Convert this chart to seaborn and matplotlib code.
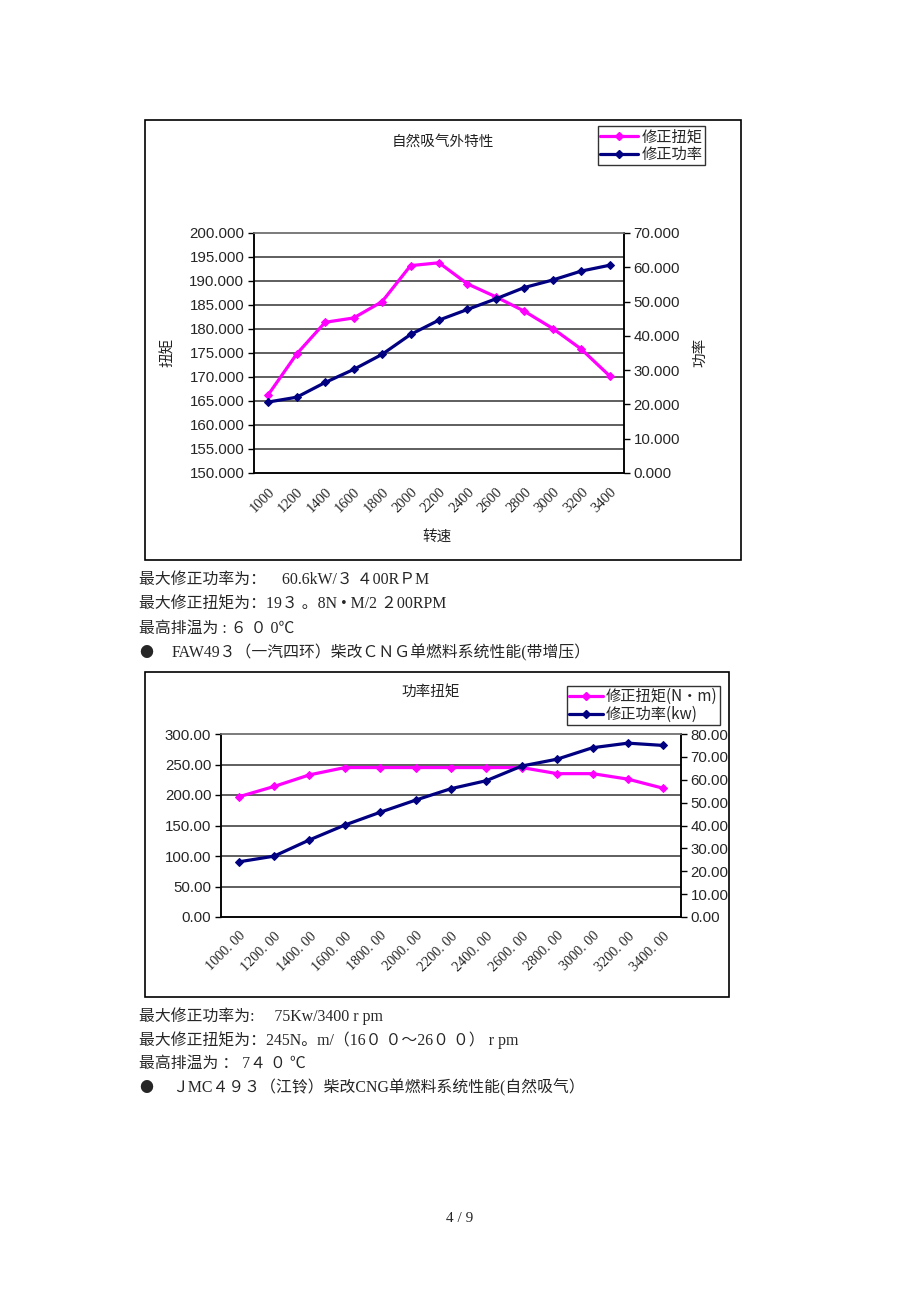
import numpy as np
import pandas as pd
import matplotlib
matplotlib.use("Agg")
import matplotlib.pyplot as plt
import seaborn as sns
from matplotlib.patches import Rectangle
from matplotlib.lines import Line2D

# data
speed = [1000, 1200, 1400, 1600, 1800, 2000, 2200, 2400, 2600, 2800, 3000, 3200, 3400]

torque1 = [166.3, 174.8, 181.4, 182.3, 185.7, 193.2, 193.8, 189.4, 186.7, 183.7, 180.1, 175.8, 170.2]
power1 = [20.7, 22.1, 26.4, 30.2, 34.6, 40.4, 44.6, 47.7, 50.8, 54.1, 56.3, 58.9, 60.6]

torque2 = [197, 214, 233, 245, 245, 245, 245, 245, 245, 235, 235, 226, 211]
power2 = [24.1, 26.6, 33.7, 40.2, 45.8, 51.1, 56.1, 59.6, 66.0, 69.0, 74.0, 76.0, 75.0]

notes1 = ["最大修正功率为：    60.6kW/３ ４00RＰM",
          "最大修正扭矩为：19３ 。8N • M/2 ２00RPM",
          "最高排温为 : ６ ０ 0℃"]
head1 = "FAW49３（一汽四环）柴改ＣＮＧ单燃料系统性能(带增压）"
notes2 = ["最大修正功率为:     75Kw/3400 r pm",
          "最大修正扭矩为：245N。m/（16０ ０～26０ ０） r pm",
          "最高排温为 ： 7４ ０ ℃"]
head2 = "ＪMC４９３（江铃）柴改CNG单燃料系统性能(自然吸气）"

sns.set_theme(style="white")
plt.rcParams['font.family'] = ['Liberation Sans', 'Noto Sans CJK SC', 'DejaVu Sans']
SERIF = ['Liberation Serif', 'Noto Sans CJK SC', 'DejaVu Sans']
CJK = ['Noto Sans CJK SC', 'DejaVu Sans']

W, H = 920, 1302
fig = plt.figure(figsize=(W / 100, H / 100), dpi=100)
fig.patch.set_facecolor("white")

MAG = "#FF00FF"
NAVY = "#000080"
GRID = "#333333"


def fx(x):
    return x / W


def fy(y):
    return 1 - y / H


def box(x0, y0, x1, y1):
    fig.patches.append(Rectangle((fx(x0), fy(y1)), fx(x1) - fx(x0), fy(y0) - fy(y1),
                                 transform=fig.transFigure, fill=False,
                                 edgecolor="black", lw=1.2))


def make_chart(rect, torque, power, ylim1, step1, ylim2, step2, fmt, xlabels, xsize):
    x0, y0, x1, y1 = rect
    ax = fig.add_axes([fx(x0), fy(y1), fx(x1) - fx(x0), fy(y0) - fy(y1)])
    ax2 = ax.twinx()
    df = pd.DataFrame({"i": np.arange(len(speed)), "t": torque, "p": power})
    sns.lineplot(data=df, x="i", y="t", ax=ax, color=MAG, lw=2.3, marker="D",
                 markersize=4.5, markeredgecolor=MAG, zorder=5)
    sns.lineplot(data=df, x="i", y="p", ax=ax2, color=NAVY, lw=2.3, marker="D",
                 markersize=4.5, markeredgecolor=NAVY, zorder=5)
    ax.set_ylim(*ylim1)
    ax2.set_ylim(*ylim2)
    ax.set_xlim(-0.5, len(speed) - 0.5)
    yt1 = np.arange(ylim1[0], ylim1[1] + step1 / 2, step1)
    yt2 = np.arange(ylim2[0], ylim2[1] + step2 / 2, step2)
    ax.set_yticks(yt1)
    ax.set_yticklabels([fmt.format(v) for v in yt1], fontsize=10.8)
    ax2.set_yticks(yt2)
    ax2.set_yticklabels([fmt.format(v) for v in yt2], fontsize=10.8)
    for v in yt1[1:-1]:
        ax.axhline(v, color=GRID, lw=1.1, zorder=1)
    ax.set_xticks(np.arange(len(speed)))
    ax.set_xticklabels(xlabels, rotation=45, ha="right", rotation_mode="anchor",
                       fontsize=xsize, family=SERIF)
    ax.set_xticks(np.arange(len(speed) - 1) + 0.5, minor=True)
    ax.tick_params(axis="x", which="major", length=0, pad=9)
    ax.tick_params(axis="x", which="minor", length=4, direction="in", color="black", width=1)
    ax.tick_params(axis="y", length=4, direction="out", color="black", width=1, pad=3,
                   left=True)
    ax2.tick_params(axis="y", length=4, direction="out", color="black", width=1, pad=3,
                    right=True)
    ax.set_xlabel("")
    ax.set_ylabel("")
    ax2.set_ylabel("")
    for a in (ax, ax2):
        for s in a.spines.values():
            s.set_color("black")
            s.set_linewidth(1.1)
        a.spines["top"].set_color("#777777")
    ax.grid(False)
    ax2.grid(False)
    return ax, ax2


def legend(x0, y0, labels, hl):
    handles = [Line2D([], [], color=MAG, lw=2.3, marker="D", markersize=4.5),
               Line2D([], [], color=NAVY, lw=2.3, marker="D", markersize=4.5)]
    leg = fig.legend(handles, labels, loc="upper left", bbox_to_anchor=(fx(x0), fy(y0)),
                     bbox_transform=fig.transFigure, frameon=True, fancybox=False,
                     borderaxespad=0, borderpad=0.15, handlelength=hl, handletextpad=0.2,
                     labelspacing=0.05, prop={"family": CJK, "size": 11})
    leg.get_frame().set_edgecolor("black")
    leg.get_frame().set_linewidth(1)


# chart 1
box(145, 120, 741, 560)
make_chart((254, 233, 624, 473), torque1, power1, (150, 200), 5, (0, 70), 10,
           "{:.3f}", [str(s) for s in speed], 10.5)
fig.text(fx(443), fy(142), "自然吸气外特性", ha="center", va="center",
         fontsize=10.5, family=CJK, color="#222222")
fig.text(fx(168), fy(352), "扭矩", ha="center", va="center", rotation=90,
         fontsize=10.5, family=CJK, color="#222222")
fig.text(fx(700), fy(352), "功率", ha="center", va="center", rotation=90,
         fontsize=10.5, family=CJK, color="#222222")
fig.text(fx(437), fy(537), "转速", ha="center", va="center",
         fontsize=10.5, family=CJK, color="#222222")
legend(598, 126, ["修正扭矩", "修正功率"], 2.5)

# notes 1
for k, s in enumerate(notes1):
    fig.text(fx(139), fy(580 + 24.5 * k), s, ha="left", va="center", fontsize=11.4, family=SERIF)
fig.text(fx(139), fy(653), "●", ha="left", va="center", fontsize=10, family=CJK)
fig.text(fx(172), fy(653), head1, ha="left", va="center", fontsize=11.4, family=SERIF)

# chart 2
box(145, 672, 729, 997)
make_chart((221, 734, 681, 917), torque2, power2, (0, 300), 50, (0, 80), 10,
           "{:.2f}", ["{}. 00".format(s) for s in speed], 10.3)
fig.text(fx(431), fy(692), "功率扭矩", ha="center", va="center",
         fontsize=10.5, family=CJK, color="#222222")
legend(567, 686, ["修正扭矩(N·m)", "修正功率(kw)"], 2.2)

# notes 2
for k, s in enumerate(notes2):
    fig.text(fx(139), fy(1016 + 24 * k), s, ha="left", va="center", fontsize=11.4, family=SERIF)
fig.text(fx(139), fy(1088), "●", ha="left", va="center", fontsize=10, family=CJK)
fig.text(fx(172), fy(1088), head2, ha="left", va="center", fontsize=11.4, family=SERIF)

fig.text(fx(460), fy(1218), "4 / 9", ha="center", va="center", fontsize=11, family=SERIF)

fig.savefig("out.png", dpi=100)
